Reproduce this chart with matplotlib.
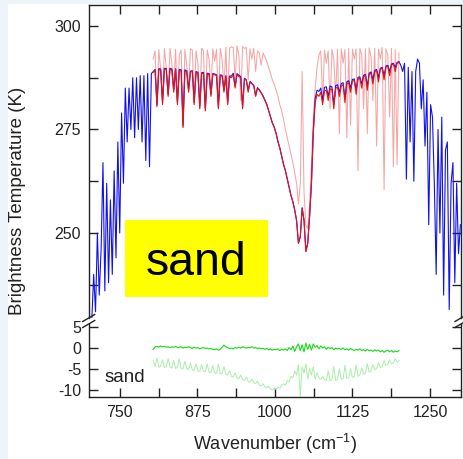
import matplotlib
matplotlib.use("Agg")
import matplotlib.pyplot as plt
import numpy as np
from matplotlib.lines import Line2D
from matplotlib.patches import Rectangle

plt.rcParams["font.family"] = ["Liberation Sans", "DejaVu Sans"]
plt.rcParams["mathtext.fontset"] = "custom"
plt.rcParams["mathtext.rm"] = "Liberation Sans"
plt.rcParams["mathtext.it"] = "Liberation Sans"

# observed brightness temperature (blue), 705-1299 cm-1 every 3 cm-1
wn_obs = np.arange(705, 1300, 3)
bt_obs_left = [  # 705-801
    229.0, 240.0, 231.0, 250.0, 235.0, 246.0, 267.0, 236.0, 262.0, 238.0,
    258.0, 240.0, 265.0, 244.0, 272.0, 250.0, 279.0, 262.0, 285.0, 272.0,
    285.0, 275.0, 287.5, 273.0, 287.5, 275.0, 288.0, 272.0, 288.0, 267.5,
    288.5, 266.0, 288.5,
]
bt_obs_mid = [  # 804-1200
    289.0, 289.5, 281.0, 289.7, 289.6, 281.5, 289.8, 289.7, 283.5, 289.8,
    289.6, 284.5, 289.7, 281.5, 289.5, 289.4, 276.0, 289.4, 289.2, 284.5,
    289.1, 289.2, 281.5, 289.0, 288.8, 280.5, 288.7, 288.8, 280.0, 288.6,
    288.5, 283.5, 288.5, 288.4, 288.2, 280.5, 288.2, 288.1, 284.5, 288.0,
    281.5, 287.9, 287.9, 288.6, 285.5, 288.5, 288.1, 287.8, 280.5, 287.4,
    287.0, 284.5, 286.6, 286.1, 285.7, 283.2, 285.1, 284.6, 283.9, 283.1,
    282.1, 281.1, 279.6, 278.1, 276.6, 275.6, 274.1, 272.1, 270.6, 268.6,
    266.6, 265.1, 263.1, 261.1, 259.1, 257.6, 255.6, 253.1, 247.6, 249.1,
    256.1, 253.1, 245.6, 247.6, 254.1, 262.1, 275.0, 282.5, 284.5, 284.2,
    285.0, 282.0, 285.2, 285.3, 283.0, 285.5, 285.3, 281.0, 285.6, 285.8,
    284.0, 286.1, 286.3, 282.5, 286.5, 286.8, 285.0, 287.1, 287.2, 284.5,
    287.6, 287.7, 286.0, 288.1, 288.3, 285.5, 288.6, 288.9, 287.0, 289.3,
    289.5, 287.5, 289.8, 290.0, 288.0, 290.3, 290.5, 289.0, 290.8, 291.0,
    290.0, 291.2, 291.4,
]
bt_obs_right = [  # 1203-1299
    290.5, 289.0, 291.0, 263.0, 290.0, 272.0, 289.0, 262.5, 289.0, 292.0,
    291.0, 280.0, 287.0, 271.0, 284.0, 252.0, 281.0, 278.0, 262.0, 240.0,
    275.0, 250.0, 278.0, 235.0, 270.0, 272.0, 231.5, 262.0, 267.0, 238.0,
    262.0, 245.0, 252.0,
]
bt_obs = np.array(bt_obs_left + bt_obs_mid + bt_obs_right)

# simulations and differences, 804-1200 cm-1 every 3 cm-1
wn_sim = np.arange(804, 1201, 3)
bt_sim = [  # red
    288.8, 289.3, 280.5, 289.5, 289.4, 281.0, 289.6, 289.5, 283.0, 289.6,
    289.4, 284.0, 289.5, 281.0, 289.3, 289.2, 275.5, 289.2, 289.0, 284.0,
    288.9, 289.0, 281.0, 288.8, 288.6, 280.0, 288.5, 288.6, 279.5, 288.4,
    288.3, 283.0, 288.3, 288.2, 288.0, 280.0, 288.0, 287.9, 284.0, 287.8,
    281.0, 287.6, 287.5, 288.2, 285.0, 288.2, 287.8, 287.5, 280.0, 287.2,
    286.9, 284.0, 286.5, 286.0, 285.6, 283.0, 285.0, 284.5, 283.8, 283.0,
    282.0, 281.0, 279.5, 278.0, 276.5, 275.5, 274.0, 272.0, 270.5, 268.5,
    266.5, 265.0, 263.0, 261.0, 259.0, 257.5, 255.5, 253.0, 247.5, 249.0,
    256.0, 253.0, 245.5, 247.5, 254.0, 262.0, 274.0, 281.5, 283.5, 283.0,
    284.0, 281.0, 284.3, 284.5, 282.0, 284.8, 284.6, 280.0, 285.0, 285.2,
    283.0, 285.5, 285.8, 281.5, 286.0, 286.3, 284.0, 286.7, 286.8, 283.5,
    287.2, 287.3, 285.0, 287.8, 288.0, 284.5, 288.3, 288.6, 286.0, 289.0,
    289.2, 286.5, 289.5, 289.8, 287.0, 290.1, 290.3, 288.0, 290.6, 290.8,
    289.0, 291.0, 291.2,
]
bt_clear = [  # light red
    292.0, 294.0, 281.0, 294.3, 289.5, 282.0, 294.5, 290.0, 284.0, 294.6,
    291.0, 285.0, 294.4, 282.0, 293.0, 294.2, 275.5, 294.3, 290.5, 285.0,
    294.5, 294.2, 282.0, 294.0, 291.0, 281.0, 294.6, 294.0, 280.0, 294.2,
    292.0, 284.0, 294.5, 291.5, 294.4, 281.0, 294.6, 292.0, 285.0, 294.8,
    282.0, 294.6, 295.0, 294.8, 287.0, 295.2, 293.0, 282.0, 295.0, 294.6,
    294.8, 287.0, 294.5, 292.0, 294.6, 289.0, 294.0, 293.5, 290.5, 293.5,
    292.5, 291.5, 290.0, 288.5, 287.0, 286.0, 284.5, 283.0, 281.0, 279.5,
    277.5, 275.0, 273.0, 271.0, 269.0, 267.0, 264.5, 262.0, 257.0, 262.0,
    289.0, 260.0, 252.0, 251.0, 257.0, 267.0, 278.0, 285.0, 290.0, 293.0,
    294.0, 282.0, 294.2, 291.0, 294.0, 280.0, 294.3, 292.0, 283.0, 294.4,
    274.0, 294.5, 291.0, 294.3, 273.0, 294.6, 276.0, 294.4, 292.0, 294.5,
    265.0, 294.6, 293.0, 280.0, 294.5, 274.0, 294.7, 292.5, 282.0, 294.6,
    271.0, 294.4, 292.0, 294.8, 260.5, 294.5, 293.0, 278.0, 294.6, 266.0,
    294.3, 266.5, 293.5,
]
diff_sim = [  # green
    -0.3, 0.3, 0.4, 0.2, 0.5, 0.3, 0.4, 0.2, 0.3, 0.1,
    0.3, 0.2, 0.4, 0.1, 0.2, 0.3, 0.0, 0.2, 0.1, 0.3,
    0.1, -0.1, 0.2, 0.0, 0.1, -0.2, 0.0, 0.1, -0.1, 0.0,
    -0.2, -0.1, -0.3, -0.4, -0.2, -0.5, -0.3, 0.2, 0.7, 0.3,
    0.1, -0.1, 0.0, -0.2, 0.1, 0.0, 0.2, 0.0, 0.3, 0.1,
    0.0, 0.2, 0.1, 0.3, 0.0, 0.1, -0.1, 0.0, -0.2, -0.1,
    -0.3, -0.1, -0.4, -0.2, -0.5, -0.3, -0.4, -0.2, -0.6, -0.3,
    -0.5, -0.2, -0.6, 0.1, -0.4, 0.5, -0.8, 0.3, 1.0, -0.6,
    0.8, -0.9, 1.2, -0.3, 0.9, -0.5, 1.0, 0.2, 0.6, -0.2,
    0.5, 0.0, 0.3, -0.3, 0.2, -0.1, 0.1, -0.4, 0.0, -0.2,
    -0.1, -0.3, 0.0, -0.4, -0.2, -0.5, -0.1, -0.4, -0.6, -0.3,
    -0.5, -0.2, -0.6, -0.4, -0.7, -0.3, -0.6, -0.5, -0.8, -0.4,
    -0.7, -0.5, -0.9, -0.6, -1.0, -0.7, -0.5, -0.9, -0.6, -1.0,
    -0.7, -0.9, -0.6,
]
diff_clear = [  # light green
    -3.0, -4.5, -2.4, -4.6, -4.4, -2.8, -4.7, -4.5, -2.5, -4.6,
    -4.8, -3.0, -4.9, -4.7, -2.6, -4.9, -5.0, -3.2, -5.0, -5.2,
    -3.5, -5.3, -5.4, -3.8, -5.5, -5.6, -4.0, -5.7, -5.6, -3.8,
    -5.8, -5.9, -4.2, -6.0, -6.1, -3.9, -6.2, -6.1, -4.5, -6.3,
    -6.5, -5.5, -6.8, -7.0, -6.0, -7.2, -7.4, -6.5, -7.6, -7.8,
    -7.0, -8.0, -8.2, -7.5, -8.4, -8.6, -8.0, -8.9, -9.1, -8.6,
    -9.4, -9.6, -9.2, -9.9, -10.1, -9.6, -10.0, -9.4, -9.7, -9.0,
    -8.6, -9.0, -7.8, -8.2, -6.8, -7.2, -5.5, -6.5, -4.0, -11.8,
    -4.5, -6.0, -3.8, -7.5, -5.0, -6.5, -4.5, -7.5, -6.0, -7.2,
    -7.5, -6.8, -7.6, -7.8, -5.5, -7.9, -7.7, -4.5, -7.8, -7.6,
    -5.0, -7.5, -7.4, -4.2, -7.3, -7.2, -5.0, -7.1, -6.9, -4.0,
    -6.8, -6.5, -4.8, -6.3, -6.0, -3.8, -5.8, -5.5, -4.0, -5.2,
    -4.9, -3.5, -4.7, -4.5, -3.0, -4.2, -4.0, -2.8, -3.8, -3.6,
    -2.6, -3.4, -3.0,
]

x_ticks = [750, 812.5, 875, 937.5, 1000, 1062.5, 1125, 1187.5, 1250]
x_labels = ["750", "", "875", "", "1000", "", "1125", "", "1250"]
top_ticks = [237.5, 250, 262.5, 275, 287.5, 300]
top_labels = ["", "250", "", "275", "", "300"]
bot_ticks = [-10, -5, 0, 5]
bot_labels = ["-10", "-5", "0", "5"]

W, H = 464, 459
INK = "#222222"


def fx(px):
    return px / W


def fy(py):
    return 1 - py / H


def px_rect(x0, y0, x1, y1):
    return [fx(x0), fy(y1), (x1 - x0) / W, (y1 - y0) / H]


fig = plt.figure(figsize=(W / 100, H / 100), dpi=100, facecolor="#eef4fa")
fig.patches.append(Rectangle((fx(8), 0), 1, fy(4), transform=fig.transFigure,
                             facecolor="white", edgecolor="none", zorder=-10))

ax_top = fig.add_axes(px_rect(88.7, 5, 461, 318))
ax_bot = fig.add_axes(px_rect(88.7, 324, 461, 397))

ax_top.plot(wn_sim, bt_clear, color="#f5a5a5", lw=0.75)
ax_top.plot(wn_obs, bt_obs, color="#1111ee", lw=0.8)
ax_top.plot(wn_sim, bt_sim, color="#ee1111", lw=0.8)
ax_bot.plot(wn_sim, diff_clear, color="#adefad", lw=0.75)
ax_bot.plot(wn_sim, diff_sim, color="#1fdc1f", lw=0.85)

ax_top.set_xlim(700, 1300)
ax_bot.set_xlim(700, 1300)
ax_top.set_ylim(229.47, 305.07)
ax_bot.set_ylim(-11.8, 5.8)

ax_top.set_xticks(x_ticks)
ax_top.set_yticks(top_ticks)
ax_top.set_yticklabels(top_labels)
ax_bot.set_xticks(x_ticks)
ax_bot.set_xticklabels(x_labels)
ax_bot.set_yticks(bot_ticks)
ax_bot.set_yticklabels(bot_labels)

for ax in (ax_top, ax_bot):
    for s in ax.spines.values():
        s.set_linewidth(1.0)
        s.set_color(INK)
    ax.yaxis.set_ticks_position("both")
    ax.tick_params(axis="both", which="major", direction="in", length=6.5,
                   width=1.0, color=INK, labelcolor=INK, labelsize=11.5, pad=5.5)

ax_top.spines["bottom"].set_visible(False)
ax_bot.spines["top"].set_visible(False)
ax_top.xaxis.set_ticks_position("top")
ax_top.tick_params(axis="x", labeltop=False, labelbottom=False)
ax_bot.xaxis.set_ticks_position("bottom")

# break marks on both vertical spines
for xs in (88.7, 461):
    for yc in (318, 324):
        fig.add_artist(Line2D([fx(xs - 6), fx(xs + 6)], [fy(yc + 3.5), fy(yc - 3.5)],
                              transform=fig.transFigure, color=INK, lw=1.0))

# yellow label box
fig.add_artist(Rectangle((fx(125), fy(297)), (268 - 125) / W, (297 - 220) / H,
                         transform=fig.transFigure, facecolor="#ffff00",
                         edgecolor="none", zorder=5))
fig.text(fx(196.5), fy(275), "sand", fontsize=33.5, ha="center", va="baseline",
         color="black", zorder=6)
fig.text(fx(125), fy(381.5), "sand", fontsize=13.5, ha="center", va="baseline",
         color=INK)

fig.text(fx(275), fy(450), "Wavenumber (cm$^{-1}$)", fontsize=13, ha="center",
         va="baseline", color=INK)
fig.text(fx(18), fy(201), "Brightness Temperature (K)", fontsize=13.5,
         rotation=90, ha="center", va="center", color=INK)

fig.savefig("out.png", dpi=100, facecolor=fig.get_facecolor())
plt.close(fig)
